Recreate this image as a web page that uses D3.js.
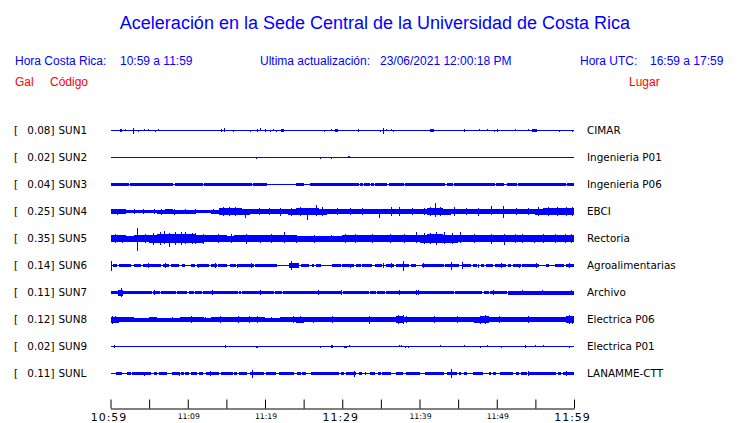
<!DOCTYPE html>
<html><head><meta charset="utf-8">
<script src="https://cdn.jsdelivr.net/npm/d3@7"></script>
<style>html,body{margin:0;padding:0;background:#fff;}svg{display:block;}</style>
</head><body><svg id="c" width="740" height="423"></svg>
<script>
// ---------- data ----------
const stations = ["SUN1","SUN2","SUN3","SUN4","SUN5","SUN6","SUN7","SUN8","SUN9","SUNL"];
const places = ["CIMAR","Ingenieria P01","Ingenieria P06","EBCI","Rectoria","Agroalimentarias","Archivo","Electrica P06","Electrica P01","LANAMME-CTT"];
const peakGal = [0.08,0.02,0.04,0.25,0.35,0.14,0.11,0.12,0.02,0.11];
const tickLabels = ["10:59","11:09","11:19","11:29","11:39","11:49","11:59"];
const tickMinutes = [0,5,10,15,20,25,30,35,40,45,50,55,60];

// per-minute half-envelopes (gal)
const envSUN4 = [0.075,0.07,0.05,0.055,0.05,0.055,0.06,0.065,0.06,0.06,0.06,0.055,0.05,0.06,0.1,0.105,0.1,0.09,0.08,0.075,0.075,0.08,0.075,0.09,0.1,0.105,0.105,0.09,0.075,0.075,0.08,0.075,0.075,0.08,0.075,0.075,0.085,0.085,0.08,0.075,0.075,0.105,0.105,0.09,0.075,0.08,0.075,0.085,0.08,0.085,0.085,0.08,0.075,0.075,0.08,0.09,0.1,0.095,0.1,0.1];
const envSUN5 = [0.095,0.095,0.09,0.11,0.095,0.12,0.135,0.14,0.135,0.135,0.125,0.12,0.11,0.095,0.095,0.09,0.095,0.1,0.095,0.095,0.095,0.095,0.1,0.095,0.09,0.09,0.09,0.09,0.09,0.09,0.1,0.1,0.1,0.095,0.095,0.095,0.095,0.095,0.1,0.1,0.12,0.125,0.125,0.12,0.12,0.11,0.095,0.1,0.095,0.1,0.1,0.1,0.1,0.1,0.095,0.095,0.1,0.095,0.1,0.1];
const envSUN8 = [0.09,0.08,0.065,0.06,0.06,0.065,0.06,0.06,0.06,0.065,0.08,0.065,0.06,0.07,0.085,0.065,0.075,0.07,0.075,0.065,0.06,0.06,0.065,0.085,0.09,0.07,0.065,0.07,0.085,0.07,0.065,0.065,0.065,0.085,0.065,0.065,0.07,0.11,0.085,0.065,0.065,0.07,0.085,0.065,0.07,0.08,0.065,0.09,0.1,0.08,0.085,0.065,0.065,0.08,0.085,0.08,0.065,0.065,0.07,0.11];

// band segments [startMin, endMin, halfGal]
const bandsSUN1 = [[1.25,1.5,0.035],[20.0,20.15,0.035],[22.1,22.5,0.035],[29.0,29.4,0.035],[41.4,41.9,0.035],[54.7,55.2,0.035]];
const bandsSUN3 = [[0,2.35,0.055],[2.5,8.15,0.055],[8.3,11.95,0.055],[12.1,18.35,0.055],[18.5,20.2,0.055],[24.0,25.1,0.055],[25.8,32.15,0.055],[32.3,32.65,0.055],[32.8,33.55,0.055],[33.7,34.15,0.055],[34.3,35.85,0.055],[36.0,37.95,0.055],[38.1,43.3,0.055],[43.5,44.35,0.055],[44.5,49.75,0.055],[49.9,51.0,0.055],[51.3,52.65,0.055],[52.8,58.9,0.055],[59.1,60,0.055]];
const bandsSUN6 = [[0.3,0.78,0.045],[1.08,2.59,0.045],[3.02,3.89,0.045],[4.23,6.48,0.045],[6.78,7.56,0.045],[7.78,8.86,0.045],[9.2,9.63,0.045],[10.37,11.0,0.045],[11.23,12.74,0.045],[12.96,13.74,0.045],[13.95,15.12,0.045],[15.42,16.2,0.045],[16.41,17.49,0.045],[17.58,18.57,0.045],[18.7,21.6,0.045],[23.1,24.4,0.075],[24.6,25.7,0.045],[26.1,26.3,0.045],[26.6,27.2,0.045],[28.7,29.8,0.045],[30.0,31.5,0.045],[31.8,32.4,0.045],[32.6,33.9,0.045],[34.3,35.2,0.045],[35.6,36.7,0.045],[36.9,38.7,0.045],[38.9,39.6,0.045],[40.3,43.2,0.045],[43.3,45.1,0.045],[45.6,46.7,0.045],[46.9,47.5,0.045],[47.9,48.4,0.045],[48.6,49.5,0.045],[49.8,51.2,0.045],[51.4,51.8,0.045],[52.1,53.1,0.045],[53.3,54.9,0.045],[55.0,55.5,0.045],[56.4,56.8,0.045],[57.5,58.7,0.045],[59.0,60,0.045]];
const bandsSUN7 = [[0,5.35,0.055],[1.0,1.6,0.09],[5.5,6.45,0.055],[6.6,8.45,0.055],[8.6,9.95,0.055],[10.1,10.75,0.055],[10.9,11.85,0.055],[12.0,16.45,0.055],[16.6,16.85,0.055],[17.0,21.15,0.055],[21.3,22.15,0.055],[22.3,29.95,0.055],[30.1,33.45,0.055],[33.6,34.35,0.055],[34.5,35.55,0.055],[35.7,44.45,0.055],[44.6,48.15,0.055],[48.3,48.95,0.055],[49.1,51.35,0.055],[51.5,60,0.06]];
const bandsSUN9 = [[18.8,19.05,0.03],[30.2,30.6,0.03]];
const bandsSUNL = [[0.65,1.5,0.045],[2.2,2.6,0.045],[2.8,5.2,0.045],[5.6,6.0,0.045],[6.3,7.3,0.045],[8.0,8.9,0.045],[9.1,9.5,0.045],[9.7,10.2,0.045],[10.4,11.2,0.045],[11.4,12.0,0.045],[12.3,14.0,0.045],[14.3,15.8,0.045],[16.0,16.4,0.045],[16.6,17.7,0.045],[18.0,19.9,0.045],[20.1,21.4,0.045],[21.8,23.8,0.045],[24.2,24.6,0.045],[24.8,25.3,0.045],[26.0,29.6,0.045],[29.8,30.2,0.045],[30.5,31.8,0.05],[32.2,32.6,0.045],[33.0,33.1,0.045],[33.6,34.3,0.045],[34.6,35.0,0.045],[35.2,36.3,0.045],[36.9,37.8,0.045],[38.2,40.0,0.045],[40.7,43.2,0.045],[43.6,44.9,0.045],[45.1,45.4,0.045],[45.8,46.2,0.045],[46.9,48.2,0.045],[49.0,49.2,0.045],[49.5,49.9,0.045],[50.4,52.1,0.045],[52.5,52.9,0.045],[53.1,53.9,0.045],[54.0,57.7,0.045],[57.9,58.3,0.045],[58.6,60,0.05]];

// spikes [minute, upGal, downGal]
const spikesSUN1 = [[1.9,0.04,0],[2.9,0.08,0.11],[3.6,0.03,0.03],[4.3,0.04,0],[4.8,0.04,0],[5.75,0,0.03],[6.1,0.04,0],[14.25,0.04,0.03],[14.7,0.07,0.03],[15.9,0,0.03],[18.0,0,0.03],[19.0,0.04,0.03],[19.35,0.07,0],[20.6,0.03,0.03],[21.1,0.04,0],[21.4,0,0.04],[27.7,0,0.03],[28.5,0.04,0],[30.4,0.03,0],[32.05,0.04,0.03],[34.9,0,0.04],[35.3,0.08,0.1],[35.6,0.04,0],[36.3,0.04,0],[36.6,0,0.04],[37.2,0.03,0],[37.9,0.03,0],[43.7,0.03,0],[45.7,0.04,0.03],[47.7,0.04,0],[48.8,0.04,0],[49.7,0,0.03],[50.0,0.04,0.03],[52.3,0.04,0],[54.0,0.04,0],[54.5,0.04,0.03],[55.9,0.03,0],[58.1,0,0.03],[59.7,0,0.04]];
const spikesSUN2 = [[18.8,0,0.035],[27.1,0,0.03],[28.55,0,0.03],[30.7,0.035,0],[30.9,0.035,0]];
const spikesSUN3 = [];
const spikesSUN4 = [[0.8,0.09,0.09],[1.6,0.08,0.07],[3.0,0.07,0.06],[4.2,0.07,0.07],[5.6,0.08,0.07],[6.5,0.09,0.09],[7.3,0.09,0.08],[8.2,0.08,0.09],[9.7,0.09,0.08],[10.9,0.07,0.07],[13.3,0.08,0.07],[14.6,0.14,0.13],[15.3,0.15,0.14],[16.1,0.13,0.13],[17.4,0.09,0.18],[19.2,0.1,0.11],[20.5,0.11,0.1],[21.9,0.1,0.12],[23.4,0.12,0.12],[24.5,0.14,0.13],[25.4,0.12,0.24],[26.6,0.21,0.12],[27.4,0.13,0.12],[29.3,0.1,0.11],[31.0,0.11,0.1],[32.6,0.1,0.11],[34.8,0.09,0.18],[36.3,0.14,0.13],[37.4,0.14,0.12],[39.0,0.1,0.1],[40.6,0.12,0.11],[41.3,0.15,0.14],[42.0,0.25,0.15],[42.7,0.15,0.14],[44.5,0.13,0.13],[46.0,0.11,0.1],[47.6,0.12,0.12],[49.2,0.18,0.1],[50.8,0.18,0.18],[52.5,0.11,0.1],[54.1,0.1,0.11],[55.4,0.13,0.13],[56.6,0.15,0.14],[57.8,0.14,0.13],[58.9,0.15,0.14],[59.7,0.14,0.14]];
const spikesSUN5 = [[0.6,0.13,0.12],[1.5,0.12,0.13],[3.4,0.33,0.37],[4.5,0.13,0.13],[5.5,0.17,0.18],[6.4,0.2,0.19],[6.9,0.24,0.17],[7.6,0.18,0.25],[8.3,0.2,0.2],[9.1,0.19,0.18],[9.7,0.21,0.17],[10.5,0.17,0.17],[11.0,0.18,0.15],[12.0,0.15,0.16],[13.9,0.13,0.12],[15.6,0.13,0.12],[17.5,0.15,0.15],[19.3,0.12,0.13],[20.8,0.13,0.12],[22.5,0.2,0.13],[24.0,0.12,0.12],[26.3,0.12,0.12],[28.5,0.12,0.11],[30.3,0.14,0.14],[31.6,0.14,0.14],[33.9,0.13,0.13],[36.2,0.13,0.12],[38.0,0.13,0.13],[39.5,0.2,0.13],[40.6,0.17,0.17],[41.4,0.18,0.17],[42.1,0.19,0.18],[43.2,0.2,0.16],[44.2,0.17,0.16],[45.3,0.21,0.13],[47.0,0.13,0.13],[49.2,0.15,0.15],[51.0,0.13,0.18],[52.4,0.13,0.13],[53.3,0.15,0.13],[54.8,0.12,0.12],[56.0,0.15,0.14],[57.5,0.13,0.13],[58.8,0.14,0.13],[59.6,0.14,0.14]];
const spikesSUN6 = [[0.1,0.15,0.15],[4.9,0.065,0.06],[7.0,0.065,0.065],[11.3,0.06,0.065],[13.5,0.065,0.06],[16.4,0.06,0.06],[18.2,0.065,0.065],[23.4,0.13,0.12],[23.7,0.08,0.08],[31.0,0.06,0.06],[35.3,0.065,0.06],[36.3,0.065,0.065],[37.9,0.15,0.15],[40.5,0.065,0.06],[44.1,0.12,0.12],[45.5,0.12,0.1],[47.6,0.06,0.06],[50.6,0.065,0.06],[52.9,0.06,0.065],[55.1,0.08,0.08],[59.4,0.065,0.065]];
const spikesSUN7 = [[1.3,0.13,0.13],[5.6,0.075,0.075],[13.1,0.075,0.075],[19.4,0.075,0.075],[26.9,0.075,0.075],[29.9,0.075,0.075],[37.4,0.075,0.075],[39.5,0.075,0.075],[39.8,0.075,0.075],[49.5,0.075,0.075],[53.3,0.075,0.075],[55.9,0.075,0.075],[59.6,0.075,0.075]];
const spikesSUN8 = [[0.2,0.12,0.12],[0.6,0.1,0.1],[2.5,0.08,0.08],[5.1,0.085,0.08],[8.0,0.08,0.08],[10.4,0.1,0.1],[12.2,0.08,0.08],[14.2,0.1,0.1],[16.5,0.1,0.1],[17.9,0.1,0.1],[19.0,0.1,0.1],[20.8,0.08,0.08],[23.6,0.1,0.1],[24.5,0.11,0.11],[26.2,0.09,0.09],[28.7,0.1,0.1],[30.6,0.08,0.08],[33.5,0.1,0.12],[34.8,0.08,0.08],[37.2,0.14,0.14],[37.8,0.13,0.13],[38.3,0.1,0.1],[40.1,0.08,0.08],[41.9,0.12,0.1],[44.9,0.1,0.1],[46.2,0.085,0.085],[47.8,0.12,0.12],[48.5,0.13,0.12],[50.3,0.1,0.1],[52.0,0.085,0.08],[54.0,0.1,0.1],[56.8,0.08,0.08],[59.4,0.14,0.14],[59.8,0.12,0.12]];
const spikesSUN9 = [[0.4,0.05,0.05],[14.8,0.045,0.045],[27.1,0,0.04],[28.1,0.03,0],[28.5,0.04,0.04],[28.7,0.04,0.04],[30.9,0.035,0],[37.4,0.035,0],[37.6,0.035,0],[38.1,0,0.04],[38.5,0,0.04],[42.7,0.035,0],[45.7,0.035,0],[47.8,0,0.04],[48.8,0.035,0],[50.6,0,0.04],[53.7,0.04,0.04],[54.9,0.035,0],[56.0,0.035,0],[59.3,0,0.04]];
const spikesSUNL = [[4.4,0.06,0.06],[8.9,0.06,0.06],[12.9,0.08,0.08],[18.3,0.12,0.12],[31.5,0.09,0.09],[44.1,0.14,0.14],[54.1,0.08,0.08],[58.9,0.08,0.08]];

const envs = [null,null,null,envSUN4,envSUN5,null,null,envSUN8,null,null];
const bands = [bandsSUN1,[],bandsSUN3,[],[],bandsSUN6,bandsSUN7,[],bandsSUN9,bandsSUNL];
const spikes = [spikesSUN1,spikesSUN2,spikesSUN3,spikesSUN4,spikesSUN5,spikesSUN6,spikesSUN7,spikesSUN8,spikesSUN9,spikesSUNL];

// ---------- drawing ----------
const BLUE = "#0000ff", RED = "#ff0000";
const svg = d3.select("#c");
const xs = d3.scaleLinear().domain([0,60]).range([110.5,574]);
const ys = d3.scaleBand().domain(stations).range([116.5,386.5]);
const amp = d3.scaleLinear().domain([0,0.3]).range([0,10]);
const rowY = s => Math.round(ys(s) + ys.bandwidth()/2);

// header
const hdr = svg.append("g").attr("font-family","'Liberation Sans', Arial, sans-serif");
hdr.append("text").attr("x",375).attr("y",28.5).attr("text-anchor","middle")
  .attr("font-size",18).attr("fill",BLUE).text("Aceleración en la Sede Central de la Universidad de Costa Rica");
const row2 = [["Hora Costa Rica:",15],["10:59 a 11:59",120],["Ultima actualización:",260],["23/06/2021 12:00:18 PM",380],["Hora UTC:",580],["16:59 a 17:59",650]];
hdr.selectAll("text.r2").data(row2).join("text").attr("class","r2")
  .attr("x",d=>d[1]).attr("y",65.3).attr("font-size",12).attr("fill",BLUE).text(d=>d[0]);
const row3 = [["Gal",15],["Código",50],["Lugar",629]];
hdr.selectAll("text.r3").data(row3).join("text").attr("class","r3")
  .attr("x",d=>d[1]).attr("y",86).attr("font-size",12).attr("fill",RED).text(d=>d[0]);

// row labels
const lab = svg.append("g").attr("font-family","'DejaVu Sans', sans-serif").attr("font-size",10.4).attr("fill","#000");
stations.forEach((s,i)=>{
  const y = rowY(s)+4.3;
  lab.append("text").attr("x",14).attr("y",y).text("[");
  lab.append("text").attr("x",54.5).attr("y",y).attr("text-anchor","end").text(peakGal[i].toFixed(2)+"]");
  lab.append("text").attr("x",58.5).attr("y",y).text(s);
  lab.append("text").attr("x",587).attr("y",y).text(places[i]);
});

// traces
const tr = svg.append("g").attr("shape-rendering","crispEdges");
stations.forEach((s,i)=>{
  const cy = rowY(s) + 0.5;
  const g = tr.append("g");
  g.append("line").attr("x1",xs(0)).attr("x2",xs(60)).attr("y1",cy).attr("y2",cy)
    .attr("stroke",BLUE).attr("stroke-width",1.2);
  if (envs[i]) {
    g.selectAll("rect.env").data(envs[i]).join("rect").attr("class","env")
      .attr("x",(d,k)=>xs(k)).attr("width",(d,k)=>xs(k+1)-xs(k)+0.3)
      .attr("y",d=>cy-amp(d)).attr("height",d=>2*amp(d)).attr("fill",BLUE);
  }
  g.selectAll("rect.band").data(bands[i]).join("rect").attr("class","band")
    .attr("x",d=>xs(d[0])).attr("width",d=>Math.max(1,xs(d[1])-xs(d[0])))
    .attr("y",d=>cy-amp(d[2])).attr("height",d=>2*amp(d[2])).attr("fill",BLUE);
  g.selectAll("line.sp").data(spikes[i]).join("line").attr("class","sp")
    .attr("x1",d=>Math.round(xs(d[0]))+0.5).attr("x2",d=>Math.round(xs(d[0]))+0.5)
    .attr("y1",d=>cy-Math.max(0.6,amp(d[1]))).attr("y2",d=>cy+Math.max(0.6,amp(d[2])))
    .attr("stroke",BLUE).attr("stroke-width",1.3);
});

// time axis
const ax = svg.append("g").attr("transform","translate(0,408.5)");
ax.call(d3.axisTop(xs).tickValues(tickMinutes).tickSize(9).tickSizeOuter(0).tickFormat(""));
ax.select(".domain").attr("stroke","#000");
ax.selectAll(".tick line").attr("stroke","#000");
const tl = svg.append("g").attr("font-family","'DejaVu Sans', sans-serif").attr("fill","#000").attr("text-anchor","middle");
tickLabels.forEach((t,k)=>{
  const big = k%3===0;
  tl.append("text").attr("x",xs(k*10)-(big?1.5:-1)).attr("y",big?420.5:418.5)
    .attr("font-size",big?11:7.7).attr("letter-spacing",big?1:0).text(t);
});
</script></body></html>
